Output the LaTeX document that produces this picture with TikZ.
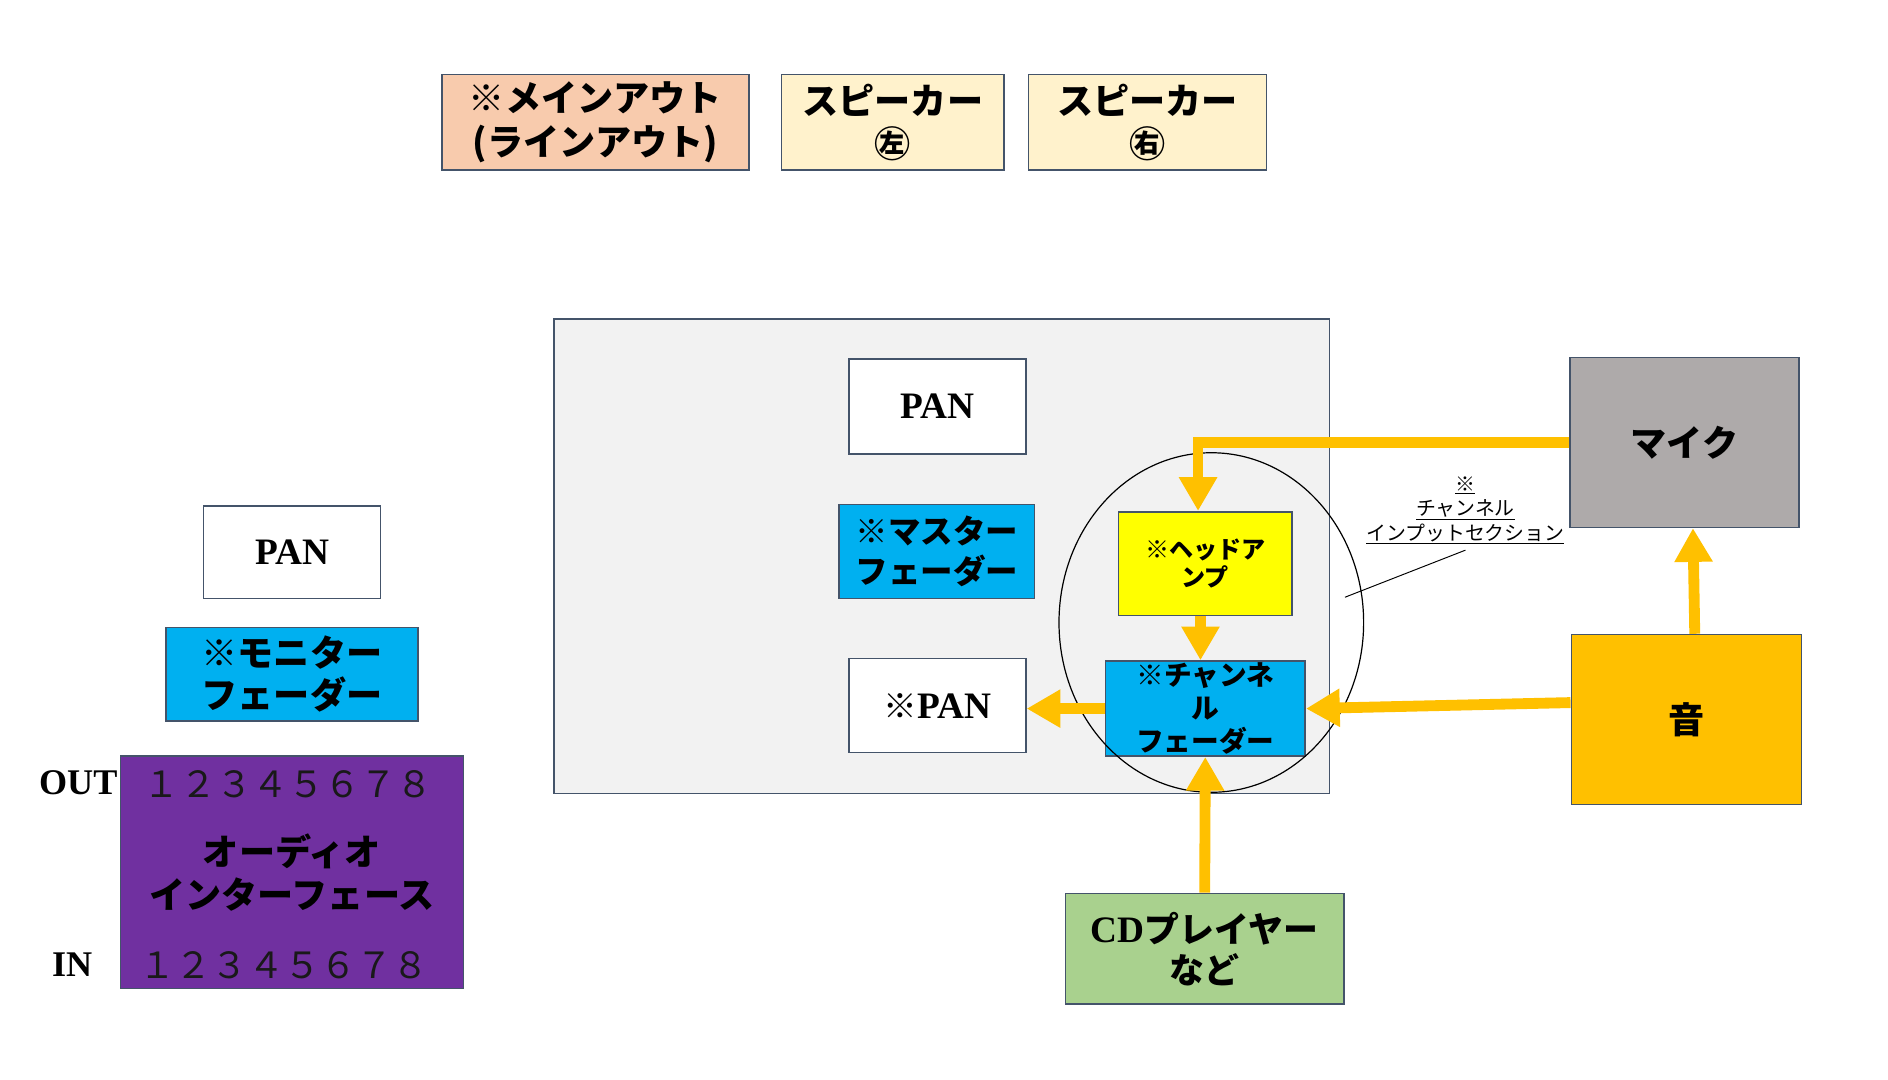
\documentclass[tikz,border=0pt]{standalone}
\usepackage{fontspec}
\newfontfamily\jp{Noto Sans CJK JP}
\newfontfamily\serf{Liberation Serif}
\usetikzlibrary{arrows.meta,shapes.geometric}
\definecolor{bordc}{RGB}{68,84,106}
\definecolor{orng}{RGB}{255,192,0}
\definecolor{peach}{RGB}{248,203,173}
\definecolor{cream}{RGB}{255,242,204}
\definecolor{panelg}{RGB}{242,242,242}
\definecolor{skyb}{RGB}{0,176,240}
\definecolor{ylw}{RGB}{255,255,0}
\definecolor{micg}{RGB}{174,170,170}
\definecolor{cdg}{RGB}{169,209,142}
\definecolor{purp}{RGB}{112,48,160}
\begin{document}
\begin{tikzpicture}[x=1pt,y=-1pt,
  box/.style={draw=bordc, line width=1.3pt, inner sep=0pt, align=center, text=black},
  jpb/.style n args={2}{font=\jp\bfseries\fontsize{#1}{#2}\selectfont},
  jpr/.style n args={2}{font=\jp\fontsize{#1}{#2}\selectfont},
  serb/.style={font=\serf\bfseries\fontsize{31}{36}\selectfont},
  flow/.style={line width=9pt, draw=orng, line join=miter, -{Triangle[width=30pt,length=28pt]}}
]
\useasboundingbox[fill=white] (0,0) rectangle (1568,896.5);

% top row
\node[box, fill=peach, minimum width=255pt, minimum height=79pt, jpb={30}{36}] (mainout) at (494.5,101.5) {※メインアウト\\(ラインアウト)};
\node[box, fill=cream, minimum width=185pt, minimum height=79pt, jpb={30}{36}] (spkL) at (741.5,101.5) {スピーカー\\㊧};
\node[box, fill=cream, minimum width=198pt, minimum height=79pt, jpb={30}{36}] (spkR) at (953,101.5) {スピーカー\\㊨};

% mixer panel
\node[box, fill=panelg, minimum width=644pt, minimum height=394pt] (panel) at (782,462) {};
\node[box, fill=white, minimum width=147pt, minimum height=79pt, serb] (pantop) at (778.5,337.5) {PAN};
\node[box, fill=skyb, minimum width=162pt, minimum height=78pt, jpb={27}{33}] (master) at (778,458) {※マスター\\フェーダー};
\node[box, fill=white, minimum width=147pt, minimum height=78pt, serb] (span) at (778.5,586) {{\jp\bfseries\fontsize{28}{34}\selectfont ※}PAN};
\node[box, fill=ylw, minimum width=144pt, minimum height=86pt, jpb={20}{24}] (head) at (1001,468) {※ヘッドア\\ンプ};
\node[box, fill=skyb, minimum width=166pt, minimum height=79pt, jpb={23}{27.5}] (ch) at (1001,588.5) {※チャンネ\\ル\\フェーダー};

\node[draw=black, line width=1pt, ellipse, minimum width=253pt, minimum height=282pt, inner sep=0pt] (sect) at (1006,517) {};

% right side sources
\node[box, fill=micg, minimum width=190pt, minimum height=141pt, jpb={30}{36}] (mic) at (1399,367.5) {マイク};
\node[box, fill=orng, minimum width=191pt, minimum height=141pt, jpb={30}{36}] (oto) at (1400.5,597.5) {音};
\node[box, fill=cdg, minimum width=231pt, minimum height=92pt, jpb={29}{34}] (cd) at (1000.5,788) {{\serf\bfseries\fontsize{31}{34}\selectfont CD}プレイヤー\\など};

% annotation
\node[jpr={16.5}{20}, align=center, inner sep=0pt] (note) at (1217,424) {\underline{※}\\\underline{チャンネル}\\\underline{インプットセクション}};
\coordinate (lead) at (1117,496);
\draw[line width=0.8pt] ([yshift=-5pt]note.south) -- (lead);

% left column
\node[box, fill=white, minimum width=147pt, minimum height=77pt, serb] (panL) at (242.5,458.5) {PAN};
\node[box, fill=skyb, minimum width=209pt, minimum height=78pt, jpb={30}{35}] (mon) at (242.5,560) {※モニター\\フェーダー};
\node[box, fill=purp, minimum width=285pt, minimum height=193pt, jpb={30}{36}] (aif) at (242.5,724.5) {オーディオ\\インターフェース};
\node[jpr={30}{36}, text=black!90, inner sep=0pt] (outnum) at (239.5,651) {１２３４５６７８};
\node[jpr={30}{36}, text=black!90, inner sep=0pt] (innum) at (236,802) {１２３４５６７８};
\node[font=\serf\bfseries\fontsize{30}{36}\selectfont, inner sep=0pt] (outlbl) at (65,650) {OUT};
\node[font=\serf\bfseries\fontsize{30}{36}\selectfont, inner sep=0pt] (inlbl) at (60,801) {IN};

% flows
\draw[flow] (mic.west) -| ([xshift=-6pt]head.north);
\draw[flow] ([xshift=-4pt]head.south) -- ([xshift=-4pt]ch.north);
\draw[flow] ([yshift=14pt]oto.west) -- (ch.east);
\draw[flow] (ch.west) -- (ch.west -| span.east);
\draw[flow] (cd.north) -- (ch.south);
\draw[flow] ([xshift=7pt]oto.north) -- ([xshift=7pt]mic.south);
\end{tikzpicture}
\end{document}
